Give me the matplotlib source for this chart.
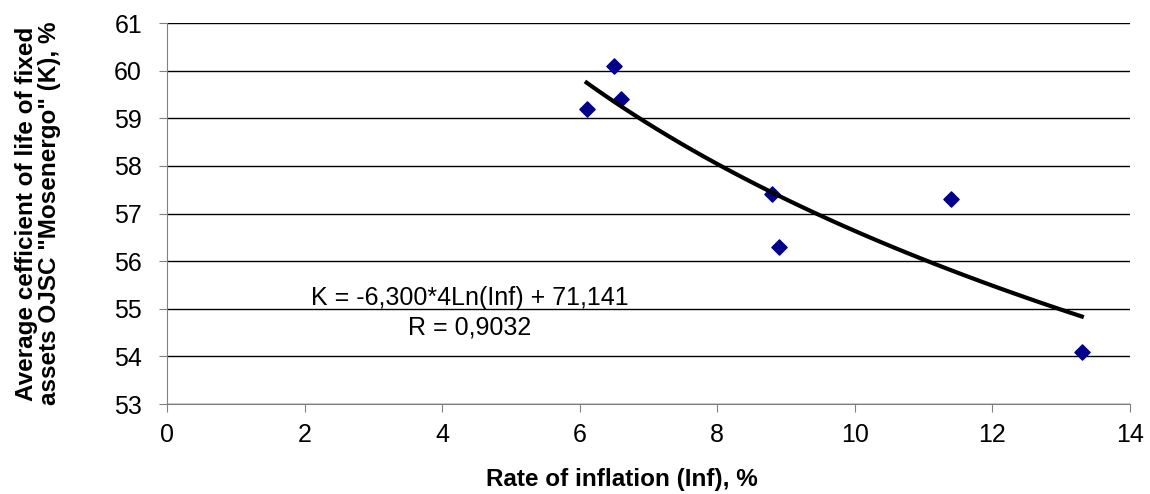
import numpy as np
import matplotlib.pyplot as plt

plt.rcParams['font.family'] = ['Liberation Sans', 'DejaVu Sans']

# observed points
inflation = [6.1, 6.5, 6.6, 8.8, 8.9, 11.4, 13.3]
coef_k = [59.2, 60.1, 59.4, 57.4, 56.3, 57.3, 54.1]

# logarithmic trend from the label
trend_a = -6.3004
trend_b = 71.141

fig = plt.figure(figsize=(11.5, 4.94), dpi=100)
ax = fig.add_axes([167 / 1150, 1 - 404 / 494, 963 / 1150, 381 / 494])

ax.scatter(inflation, coef_k, marker='D', s=60, color='#00008B', zorder=3)

xt = np.linspace(min(inflation), max(inflation), 100)
ax.plot(xt, trend_a * np.log(xt) + trend_b, color='black', lw=3, zorder=4)

ax.set_xlim(0, 14)
ax.set_ylim(53, 61)
ax.set_xticks(range(0, 15, 2))
ax.set_yticks(range(53, 62))
ax.grid(axis='y', color='black', lw=1)
ax.set_axisbelow(True)
for s in ['top', 'right']:
    ax.spines[s].set_visible(False)
for s in ['left', 'bottom']:
    ax.spines[s].set_color('#808080')
ax.tick_params(labelsize=18, color='#808080', length=6)
ax.tick_params(axis='y', pad=12)
ax.tick_params(axis='x', pad=8)

ax.set_xlabel('Rate of inflation (Inf), %', fontsize=17.5, fontweight='bold')
ax.xaxis.set_label_coords(0.4725, -0.168)
ax.set_ylabel('Average cefficient of life of fixed\nassets OJSC "Mosenergo" (K), %',
              fontsize=17.5, fontweight='bold', linespacing=1.0)
ax.yaxis.set_label_coords(-0.11, 0.5)

ax.text(4.4, 55.08, 'K = -6,300*4Ln(Inf) + 71,141', fontsize=18,
        ha='center', va='baseline')
ax.text(4.4, 54.45, 'R = 0,9032', fontsize=18, ha='center', va='baseline')

fig.savefig('out.png', dpi=100)
